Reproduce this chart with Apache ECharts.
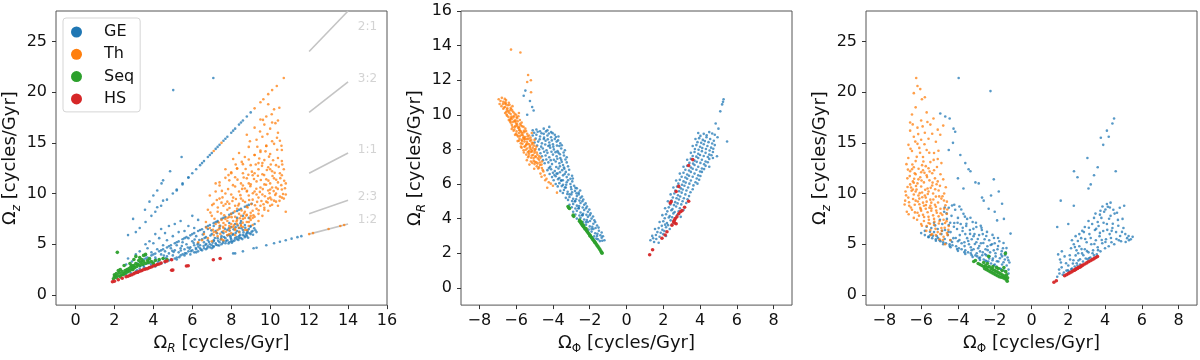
<!DOCTYPE html>
<html>
<head>
<meta charset="utf-8">
<script src="https://cdn.jsdelivr.net/npm/echarts@6.0.0/dist/echarts.min.js"></script>
<style>html,body{margin:0;padding:0;background:#fff}#c{width:1200px;height:360px}</style>
</head>
<body>
<div id="c"></div>
<script>
// ---------- groups ----------
const groupNames = ['GE', 'Th', 'Seq', 'HS'];
const groupColors = ['#1f77b4', '#ff7f0e', '#2ca02c', '#d62728'];

// ---------- tick values ----------
const ticksOmegaR_x = [0, 2, 4, 6, 8, 10, 12, 14, 16];
const ticksOmegaZ = [0, 5, 10, 15, 20, 25];
const ticksOmegaPhi = [-8, -6, -4, -2, 0, 2, 4, 6, 8];
const ticksOmegaR_y = [0, 2, 4, 6, 8, 10, 12, 14, 16];

// ---------- resonance guide lines (panel 1) ----------
const ratioNames = ['2:1', '3:2', '1:1', '2:3', '1:2'];
const ratioStart = [[12, 24], [12, 18], [12, 12], [12, 8], [12, 6]];
const ratioEnd = [[14, 28], [14, 21], [14, 14], [14, 9.33], [14, 7]];
const ratioLabelPos = [[14.5, 26.4], [14.5, 21.35], [14.5, 14.35], [14.5, 9.7], [14.5, 7.36]];

// ---------- Panel 1: Omega_R (x) vs Omega_z (y) ----------
const p1GE = [
[3.5,3.5],[3.7,3.68],[3.9,3.9],[4.1,4.08],[4.3,4.3],[4.5,4.5],[4.7,4.68],[4.9,4.9],[5.1,5.1],[5.3,5.28],[5.5,5.5],[5.7,5.7],[5.9,5.88],[6.1,6.1],[6.3,6.3],[6.5,6.48],[6.7,6.7],[6.9,6.9],[7.1,7.08],[7.3,7.3],[7.5,7.5],[7.7,7.68],[7.9,7.9],[8.1,8.1],[8.3,8.28],[8.5,8.5],[8.7,8.7],[8.9,8.88],[9.05,9.0],[3.6,3.6],[4.0,4.0],[4.4,4.4],[4.8,4.8],[5.2,5.2],[5.6,5.6],[6.0,6.0],[6.4,6.4],[6.8,6.8],[7.2,7.2],[7.6,7.6],[8.0,8.0],[8.4,8.4],[8.8,8.8],
[3.3,6.6],[3.6,7.2],[3.9,7.8],[4.1,8.2],[4.4,8.8],[4.7,9.4],[5.0,10.0],[5.2,10.4],[5.5,11.0],[5.8,11.6],[6.0,12.0],[6.2,12.4],[6.4,12.8],[6.6,13.2],[6.8,13.6],[7.0,14.0],[7.2,14.4],[7.4,14.8],[7.6,15.2],[7.8,15.6],[8.0,16.0],[8.2,16.4],[8.4,16.8],[8.6,17.2],[8.8,17.6],[9.0,18.0],[4.2,8.65],[4.5,9.3],[5.2,10.3],[5.5,10.9],[5.8,11.56],[6.5,13.0],[6.9,13.8],[7.3,14.6],[7.7,15.4],[8.1,16.2],[8.5,17.0],
[2.96,7.5],[3.57,8.4],[3.8,9.2],[4.0,9.8],[4.2,10.3],[4.42,11.0],[4.5,11.3],[4.86,12.2],[5.45,13.6],[2.7,5.9],[3.1,6.2],[5.02,20.2],[7.08,21.4],
[8.2,4.1],[8.6,4.3],[9.15,4.6],[9.3,4.65],[9.8,4.9],[10.2,5.1],[10.5,5.25],[10.8,5.4],[11.1,5.55],[11.4,5.7],[11.6,5.8],
[2.6,2.0],[2.7,2.3],[2.8,1.9],[2.9,2.5],[3.0,2.1],[3.0,2.8],[3.1,2.3],[3.2,3.1],[3.2,2.2],[3.3,2.6],[3.4,2.4],[3.4,3.3],[3.5,2.9],[2.7,3.6],[2.9,3.3],[3.1,4.0],[3.3,4.3],[2.6,3.0],
[3.6,2.6],[3.6,3.9],[3.7,3.1],[3.7,4.6],[3.8,2.7],[3.8,3.5],[3.9,2.9],[3.9,4.2],[4.0,3.2],[4.0,5.1],[4.1,2.8],[4.1,3.7],[4.2,4.5],[4.2,3.0],[4.3,3.4],[4.3,5.6],[4.4,3.1],[4.4,4.0],[4.5,3.6],[4.5,4.9],[3.8,5.3],[4.1,6.0],[4.4,6.5],[3.6,5.0],
[4.6,3.2],[4.6,4.3],[4.7,3.8],[4.7,5.4],[4.8,3.4],[4.8,4.1],[4.9,4.6],[4.9,3.5],[5.0,3.9],[5.0,5.8],[5.1,3.6],[5.1,4.4],[5.2,4.9],[5.2,3.7],[5.3,4.2],[5.3,6.2],[5.4,3.9],[5.4,4.6],[5.5,5.2],[5.5,4.0],[4.8,6.8],[5.1,7.0],[5.4,7.3],[4.6,6.1],
[5.6,3.9],[5.6,4.5],[5.7,4.1],[5.7,5.0],[5.8,4.3],[5.8,5.6],[5.9,4.0],[5.9,4.7],[6.0,4.4],[6.0,5.3],[6.1,4.2],[6.1,4.9],[6.2,4.5],[6.2,5.8],[6.3,4.3],[6.3,5.1],[6.4,4.6],[6.4,4.9],[6.5,4.4],[6.5,5.5],[5.8,6.8],[6.1,6.6],[6.3,7.4],[5.6,6.3],[6.0,7.8],
[6.6,4.6],[6.6,5.2],[6.7,4.5],[6.7,5.7],[6.8,4.8],[6.8,5.4],[6.9,4.7],[6.9,5.0],[7.0,4.9],[7.0,6.0],[7.1,4.8],[7.1,5.4],[7.2,5.1],[7.2,6.3],[7.3,4.9],[7.3,5.6],[7.4,5.2],[7.4,6.6],[7.5,5.0],[7.5,5.8],[6.8,6.5],[7.1,6.8],[7.3,7.2],[6.6,6.2],
[7.6,5.3],[7.6,6.1],[7.7,5.1],[7.7,5.6],[7.8,5.4],[7.8,6.4],[7.9,5.2],[7.9,5.9],[8.0,5.5],[8.0,6.7],[8.1,5.3],[8.1,6.0],[8.2,5.6],[8.2,7.0],[8.3,5.5],[8.3,6.3],[8.4,5.8],[8.4,6.6],[8.5,5.6],[8.5,7.3],[8.6,5.9],[8.6,6.4],[8.7,5.7],[8.7,6.9],[8.8,6.1],[8.8,5.8],[8.9,6.5],[8.9,7.6],[9.0,6.0],[9.0,6.8],[9.1,6.3],[9.2,7.0],[9.3,6.2],[8.6,7.8],[8.3,7.6],[7.9,7.1],[7.0,4.6],[8.0,5.3],[8.1,4.1],[6.2,4.2],[5.2,3.5],
[5.62,4.12],[5.77,4.68],[5.93,4.31],[6.07,5.12],[6.18,4.63],[6.27,4.98],[6.36,5.42],[6.44,4.47],[6.58,4.83],[6.63,5.61],[6.72,5.03],[6.77,4.62],[6.86,5.22],[6.93,5.87],[7.04,5.16],[7.08,4.72],[7.16,5.62],[7.22,4.96],[7.27,6.08],[7.33,5.34],[7.38,4.88],[7.46,5.47],[7.52,6.21],[7.57,5.14],[7.63,5.72],[7.68,6.52],[7.74,5.31],[7.81,5.88],[7.86,5.07],[7.92,6.33],[7.97,5.63],[8.03,5.16],[8.07,5.94],[8.12,6.47],[8.17,5.38],[8.23,6.12],[8.28,5.71],[8.33,6.86],[8.37,5.43],[8.42,6.22],[8.46,5.92],[8.52,6.58],[8.57,5.51],[8.63,6.17],[8.68,5.84],[8.72,6.63],[8.77,5.97],[8.83,6.36],[8.87,5.64],[8.93,6.08],[8.98,6.73],[9.04,6.22],[9.12,5.93],[9.18,6.57],[9.24,6.38],[6.12,5.47],[6.54,5.96],[6.98,6.37],[7.43,6.82],[7.88,6.58],[8.48,7.08],[8.22,6.68],[5.46,4.83],[5.04,4.23],[4.63,3.62],[4.23,3.27],[3.86,3.08],[3.52,2.74],[3.16,2.43],[2.84,2.16],[5.33,3.73],[5.86,4.56],[6.31,4.76],[6.68,4.94],[7.11,5.33],[7.49,5.61],[7.96,5.78],[8.41,5.63],[8.84,6.22],[4.12,3.52],[4.54,3.88],[4.97,4.36],[5.41,4.39],[3.73,3.32],[3.34,2.86],[2.98,2.61]
];
const p1Th = [
[6.6,6.0],[6.7,7.2],[6.8,5.6],[6.8,8.4],[6.9,6.6],[7.0,7.8],[7.0,5.3],[7.1,9.0],[7.1,6.2],[7.2,7.0],[7.2,10.2],[7.3,5.8],[7.3,8.2],[7.4,6.5],[7.4,9.5],[7.5,7.4],[7.5,5.5],[6.9,9.8],[7.2,11.0],[7.4,10.8],
[7.6,6.3],[7.6,8.8],[7.7,7.5],[7.7,10.0],[7.8,5.9],[7.8,9.2],[7.9,6.8],[7.9,11.3],[8.0,8.0],[8.0,6.1],[8.0,12.1],[8.1,7.3],[8.1,9.6],[8.2,6.5],[8.2,10.7],[8.3,8.5],[8.3,7.0],[8.3,12.5],[8.4,9.0],[8.4,6.2],[8.5,11.0],[8.5,7.8],[7.6,7.1],[7.8,8.4],[8.0,9.9],[8.2,8.8],[8.4,10.2],[7.7,12.4],[8.1,13.4],[8.4,14.0],[7.9,6.4],[8.2,7.7],[7.5,9.1],
[8.6,6.7],[8.6,9.3],[8.6,12.0],[8.7,7.6],[8.7,10.5],[8.7,13.6],[8.8,6.4],[8.8,8.7],[8.8,11.5],[8.9,7.2],[8.9,9.8],[8.9,14.6],[9.0,8.1],[9.0,10.9],[9.0,12.8],[9.1,6.9],[9.1,9.4],[9.1,11.8],[9.2,7.7],[9.2,10.2],[9.2,13.8],[9.3,8.5],[9.3,11.2],[9.3,15.3],[9.4,7.3],[9.4,9.6],[9.4,12.4],[9.5,8.8],[9.5,10.6],[9.5,14.1],[8.7,8.2],[8.9,11.0],[9.1,8.3],[9.3,9.9],[8.6,10.8],[9.0,7.4],[9.4,13.0],[8.8,15.8],[9.2,16.5],[9.5,17.3],
[9.6,7.8],[9.6,9.9],[9.6,11.9],[9.6,15.6],[9.7,8.6],[9.7,10.9],[9.7,13.3],[9.8,9.2],[9.8,11.4],[9.8,14.7],[9.8,17.6],[9.9,8.3],[9.9,10.3],[9.9,12.6],[10.0,9.6],[10.0,11.0],[10.0,13.9],[10.0,16.4],[10.1,8.9],[10.1,10.6],[10.1,12.2],[10.2,9.3],[10.2,11.5],[10.2,14.9],[10.2,18.3],[10.3,10.0],[10.3,12.8],[10.4,8.8],[10.4,11.1],[10.4,13.5],[10.5,9.7],[10.5,12.0],[10.5,15.2],[10.6,10.4],[10.6,11.8],[10.6,13.2],[10.7,9.5],[10.7,12.4],[10.8,8.2],[10.8,11.0],[9.9,18.8],[10.1,17.0],[10.4,16.0],[9.7,16.8],
[7.4,11.1],[7.7,11.55],[8.0,12.0],[8.3,12.45],[8.6,12.9],[8.9,13.35],[9.2,13.8],[9.5,14.25],[9.8,14.7],[10.1,15.15],[10.35,15.5],
[7.9,6.0],[8.2,6.4],[8.5,6.8],[8.8,7.2],[9.1,7.6],[9.4,8.0],[9.7,8.4],[10.0,8.8],[10.3,9.2],[10.6,9.6],[10.8,9.9],
[9.2,18.4],[9.5,19.0],[9.65,19.3],[9.9,19.8],[10.1,20.2],[10.34,20.6],[10.7,21.4],[7.1,14.2],[7.5,15.0],
[12.0,6.0],[12.2,6.1],[13.0,6.5],[13.6,6.8],[13.8,6.9],
[7.6,6.6],[7.7,6.9],[7.8,7.3],[7.9,7.7],[8.0,7.0],[8.1,6.7],[8.3,7.4],[8.4,8.0],[8.5,6.9],[8.6,7.5],[8.7,6.4],[8.8,7.9],[8.9,6.8],[9.0,7.8],[7.4,6.8],[7.3,6.4],[7.1,5.9],[7.6,5.4],[8.2,5.9],[6.5,5.4],[6.3,5.2],
[9.9,9.5],[10.3,10.6],[10.0,12.4],[9.6,13.0],[9.2,12.0],[8.8,10.2],[8.5,9.5],[8.2,11.6],[7.9,9.0],[10.6,14.3],[10.4,17.2],[10.0,10.4],
[7.06,6.43],[7.14,7.52],[7.23,6.17],[7.31,8.63],[7.36,7.14],[7.44,6.02],[7.48,8.04],[7.55,9.62],[7.58,6.72],[7.64,7.86],[7.71,8.97],[7.73,6.24],[7.82,7.62],[7.84,10.44],[7.91,8.58],[7.95,6.63],[8.02,7.67],[8.06,9.26],[8.09,10.83],[8.14,6.87],[8.18,8.24],[8.24,9.46],[8.27,7.24],[8.32,11.37],[8.36,8.82],[8.39,6.63],[8.44,7.56],[8.47,9.84],[8.53,8.34],[8.56,10.46],[8.59,7.13],[8.64,11.58],[8.66,8.03],[8.71,9.17],[8.74,12.42],[8.78,7.84],[8.81,10.27],[8.84,8.62],[8.88,11.86],[8.92,9.37],[8.95,7.58],[8.98,10.72],[9.03,8.96],[9.06,12.16],[9.11,10.03],[9.14,7.86],[9.17,11.43],[9.22,8.84],[9.26,12.86],[9.29,10.47],[9.33,9.18],[9.37,11.76],[9.41,8.36],[9.44,13.46],[9.47,10.16],[9.52,11.34],[9.55,9.27],[9.58,12.73],[9.62,10.44],[9.66,8.94],[9.69,11.82],[9.73,9.73],[9.76,14.16],[9.79,10.87],[9.83,12.32],[9.87,9.12],[9.91,11.27],[9.94,13.64],[9.97,10.03],[10.03,12.86],[10.06,9.42],[10.12,11.73],[10.15,13.28],[10.18,10.24],[10.23,12.04],[10.26,9.86],[10.31,11.36],[10.36,14.32],[10.39,10.46],[10.44,12.63],[10.48,9.28],[10.52,11.52],[10.57,10.83],[10.62,12.87],[10.66,9.96],[10.72,11.26],[10.76,10.52],[9.86,15.86],[10.27,16.94],[10.58,14.72],[9.34,14.62],[8.96,15.16],[10.08,17.82],[9.63,17.26],[10.47,18.46],[9.48,16.12],[8.54,13.12],[8.23,12.86],[7.86,11.82],[7.52,10.26],[7.26,9.36],[6.93,8.12],[6.72,6.64],[7.02,8.86]
];
const p1Seq = [
[1.95,1.6],[2.0,1.8],[2.0,2.0],[2.05,1.9],[2.1,1.7],[2.1,2.1],[2.15,4.2],[2.2,1.9],[2.25,2.2],[2.3,1.8],[2.35,2.0],[2.4,2.3],[2.45,2.0],[2.5,2.1],[2.55,2.4],[2.6,2.2],[2.65,2.5],[2.7,2.3],[2.75,2.6],[2.8,2.4],[2.85,2.8],[2.9,2.6],[2.95,2.5],[3.0,2.9],[3.05,2.7],[3.1,3.1],[3.15,2.8],[3.2,3.0],[3.25,3.4],[3.3,2.9],[3.35,3.2],[3.4,3.5],[3.45,3.0],[3.5,3.3],[3.6,3.1],[3.7,3.4],[3.75,3.2],[3.8,3.6],[3.9,3.3],[4.0,3.1],[3.0,3.5],[2.8,3.1],[2.3,2.5],[2.2,2.4],[3.5,3.9],[3.3,3.7],[4.1,3.4],[3.6,4.0],[4.3,3.5],[4.5,3.6],[4.7,3.5],[3.1,3.8],[2.5,2.9],[2.9,2.9]
];
const p1HS = [
[1.9,1.3],[2.0,1.35],[2.2,1.5],[2.4,1.65],[2.6,1.8],[2.7,1.85],[2.8,1.95],[2.9,2.0],[3.0,2.1],[3.1,2.2],[3.2,2.25],[3.3,2.35],[3.4,2.4],[3.5,2.5],[3.6,2.55],[3.7,2.6],[3.8,2.7],[3.9,2.75],[4.0,2.85],[4.1,2.9],[4.2,3.0],[4.3,3.05],[4.4,3.15],[4.6,3.3],[4.7,3.35],[4.94,3.47],[4.94,2.43],[5.0,2.45],[5.79,2.88],[5.7,2.85],[7.08,3.47],[7.43,3.6]
];

// ---------- Panel 2: Omega_phi (x) vs Omega_R (y) ----------
const p2GE = [
[-5.1,9.1],[-4.9,9.15],[-4.7,9.05],[-4.5,9.2],[-4.3,9.1],[-4.1,9.0],
[-5.1,8.8],[-4.9,8.85],[-4.7,8.75],[-4.5,8.9],[-4.3,8.8],[-4.1,8.7],[-3.9,8.85],[-3.7,8.75],
[-5.0,8.4],[-4.8,8.45],[-4.6,8.35],[-4.4,8.5],[-4.2,8.4],[-4.0,8.3],[-3.8,8.45],[-3.6,8.35],[-4.5,8.6],[-3.9,8.6],
[-4.75,8.0],[-4.55,8.05],[-4.35,7.95],[-4.15,8.1],[-3.95,8.0],[-3.75,7.9],[-3.55,8.05],[-3.35,7.95],[-4.25,8.2],[-3.65,8.2],
[-4.6,7.6],[-4.4,7.65],[-4.2,7.55],[-4.0,7.7],[-3.8,7.6],[-3.6,7.5],[-3.4,7.65],[-3.25,7.55],[-4.3,7.8],[-3.7,7.8],
[-4.45,7.2],[-4.25,7.25],[-4.05,7.15],[-3.85,7.3],[-3.65,7.2],[-3.45,7.1],[-3.25,7.25],[-3.95,7.4],[-3.55,7.4],[-4.15,7.0],
[-4.3,6.8],[-4.1,6.85],[-3.9,6.75],[-3.7,6.9],[-3.5,6.8],[-3.3,6.7],[-3.8,6.6],[-3.4,6.95],[-4.0,6.65],
[-4.05,6.4],[-3.85,6.45],[-3.65,6.35],[-3.45,6.5],[-3.25,6.4],[-3.05,6.3],[-3.55,6.2],[-3.75,6.6],[-3.15,6.55],
[-3.85,6.0],[-3.65,6.05],[-3.45,5.95],[-3.25,6.1],[-3.05,6.0],[-2.85,5.9],[-3.35,5.8],[-3.55,6.2],[-2.95,6.15],
[-3.6,5.6],[-3.4,5.65],[-3.2,5.55],[-3.0,5.7],[-2.8,5.6],[-2.6,5.5],[-3.1,5.4],[-3.3,5.8],[-2.7,5.75],
[-3.3,5.2],[-3.1,5.25],[-2.9,5.15],[-2.7,5.3],[-2.5,5.2],[-2.35,5.1],[-2.8,5.0],[-3.0,5.4],[-2.6,5.4],
[-3.1,4.8],[-2.9,4.85],[-2.7,4.75],[-2.5,4.9],[-2.3,4.8],[-2.15,4.7],[-2.6,4.6],[-2.8,5.0],[-2.4,5.0],
[-2.9,4.4],[-2.7,4.45],[-2.5,4.35],[-2.3,4.5],[-2.1,4.4],[-1.95,4.3],[-2.4,4.2],[-2.6,4.6],[-2.2,4.6],
[-2.7,4.0],[-2.5,4.05],[-2.3,3.95],[-2.1,4.1],[-1.9,4.0],[-1.75,3.9],[-2.2,3.8],[-2.4,4.2],[-2.0,4.2],
[-2.4,3.6],[-2.2,3.65],[-2.0,3.55],[-1.8,3.7],[-1.6,3.6],[-1.9,3.4],[-2.1,3.8],[-1.7,3.8],
[-2.1,3.2],[-1.9,3.25],[-1.7,3.15],[-1.5,3.3],[-1.35,3.2],[-1.6,3.0],[-1.8,3.4],
[-1.8,2.85],[-1.55,2.8],[-1.35,2.9],[-1.2,2.75],[-1.45,2.7],
[-5.59,11.1],[-5.5,11.4],[-5.13,10.45],[-5.05,10.25],[-5.25,10.8],[-5.4,10.0],[-4.2,9.3],
[-5.02,8.96],[-4.83,9.02],[-4.62,8.93],[-4.38,9.04],[-4.22,8.92],[-4.02,8.94],[-3.84,8.72],[-4.94,8.62],[-4.72,8.58],[-4.48,8.68],[-4.28,8.58],[-4.06,8.52],[-3.72,8.52],[-4.86,8.22],[-4.64,8.16],[-4.42,8.28],[-4.18,8.24],[-3.98,8.16],[-3.78,8.22],[-3.52,8.24],[-3.42,7.82],[-3.62,7.72],[-3.86,7.84],[-4.08,7.86],[-4.48,7.86],[-4.68,7.78],[-3.32,7.42],[-3.52,7.28],[-3.76,7.46],[-4.12,7.38],[-4.36,7.42],[-4.54,7.38],[-3.18,7.02],[-3.38,6.88],[-3.62,7.02],[-3.82,6.98],[-4.22,6.92],[-4.18,6.58],[-3.92,6.52],[-3.62,6.68],[-3.36,6.58],[-3.12,6.82],[-2.96,6.48],[-3.96,6.22],[-3.72,6.28],[-3.46,6.22],[-3.18,6.22],[-2.92,6.32],[-3.74,5.86],[-3.52,5.88],[-3.28,5.96],[-3.02,5.82],[-2.78,5.78],[-3.46,5.48],[-3.22,5.42],[-2.96,5.52],[-2.72,5.46],[-2.52,5.62],[-3.18,5.08],[-2.96,5.02],[-2.74,5.12],[-2.56,5.04],[-2.42,5.28],[-2.98,4.66],[-2.78,4.58],[-2.58,4.72],[-2.38,4.64],[-2.22,4.88],[-2.78,4.24],[-2.56,4.18],[-2.36,4.28],[-2.18,4.22],[-2.02,4.52],[-2.58,3.86],[-2.36,3.78],[-2.16,3.92],[-1.98,3.86],[-1.82,4.12],[-2.28,3.42],[-2.06,3.36],[-1.86,3.52],[-1.68,3.46],[-1.52,3.48],[-1.98,3.06],[-1.76,2.98],[-1.58,3.12],[-1.42,3.04],[-1.28,2.98],[-1.64,2.84],[-1.32,2.72],
[1.3,2.75],[1.5,2.65],[1.75,2.6],
[1.4,3.0],[1.6,3.05],[1.8,2.95],[2.0,3.1],[2.15,3.0],
[1.55,3.4],[1.75,3.45],[1.95,3.35],[2.15,3.5],[2.35,3.4],
[1.8,3.8],[2.0,3.85],[2.2,3.75],[2.4,3.9],[2.6,3.8],[2.1,3.65],
[1.95,4.2],[2.15,4.25],[2.35,4.15],[2.55,4.3],[2.75,4.2],[2.95,4.1],
[2.1,4.6],[2.3,4.65],[2.5,4.55],[2.7,4.7],[2.9,4.6],[3.1,4.5],
[2.25,5.0],[2.45,5.05],[2.65,4.95],[2.85,5.1],[3.05,5.0],[3.25,4.9],
[2.4,5.4],[2.6,5.45],[2.8,5.35],[3.0,5.5],[3.2,5.4],[3.4,5.3],
[2.55,5.8],[2.75,5.85],[2.95,5.75],[3.15,5.9],[3.35,5.8],[3.6,5.7],
[2.7,6.2],[2.9,6.25],[3.1,6.15],[3.3,6.3],[3.5,6.2],[3.75,6.1],[3.95,6.25],
[2.9,6.6],[3.1,6.65],[3.3,6.55],[3.5,6.7],[3.7,6.6],[3.9,6.5],[4.1,6.7],
[3.1,7.0],[3.3,7.05],[3.5,6.95],[3.7,7.1],[3.9,7.0],[4.1,6.9],[4.3,7.05],[4.5,7.0],
[3.3,7.4],[3.5,7.45],[3.7,7.35],[3.9,7.5],[4.1,7.4],[4.3,7.3],[4.5,7.45],[4.7,7.5],
[3.5,7.8],[3.7,7.85],[3.9,7.75],[4.1,7.9],[4.3,7.8],[4.5,7.7],[4.7,7.85],
[3.6,8.2],[3.8,8.25],[4.0,8.15],[4.2,8.3],[4.4,8.2],[4.6,8.1],[4.8,8.25],
[3.75,8.6],[3.95,8.65],[4.15,8.55],[4.35,8.7],[4.55,8.6],[4.75,8.5],[4.95,8.7],
[3.9,8.95],[4.2,8.9],[4.5,9.0],[4.8,8.85],
[5.28,10.9],[5.2,10.6],[5.1,10.2],[5.0,9.2],[5.47,8.46],[4.92,7.6],[4.85,9.5],[5.25,10.75],
[1.45,2.86],[1.62,2.82],[1.68,3.22],[1.86,3.18],[2.06,3.28],[1.92,3.58],[2.26,3.62],[2.48,3.66],[2.08,4.02],[2.3,4.06],[2.48,4.08],[2.66,4.02],[2.22,4.42],[2.44,4.48],[2.62,4.38],[2.84,4.42],[2.38,4.82],[2.58,4.78],[2.78,4.88],[2.98,4.82],[2.52,5.22],[2.72,5.18],[2.92,5.28],[3.12,5.18],[3.32,5.12],[2.66,5.62],[2.86,5.58],[3.06,5.68],[3.26,5.62],[3.48,5.52],[2.82,6.02],[3.02,5.96],[3.22,6.08],[3.42,6.02],[3.64,5.92],[3.86,6.02],[3.0,6.42],[3.2,6.38],[3.4,6.48],[3.6,6.42],[3.82,6.32],[4.02,6.46],[3.2,6.82],[3.4,6.78],[3.6,6.88],[3.8,6.82],[4.0,6.72],[4.22,6.86],[3.42,7.22],[3.62,7.18],[3.82,7.28],[4.02,7.22],[4.22,7.14],[4.42,7.26],[3.6,7.62],[3.8,7.58],[4.0,7.68],[4.2,7.62],[4.42,7.56],[4.62,7.66],[3.72,8.02],[3.92,7.98],[4.12,8.08],[4.32,8.02],[4.52,7.94],[4.72,8.04],[3.86,8.42],[4.06,8.38],[4.26,8.48],[4.46,8.42],[4.66,8.34],[4.02,8.78],[4.36,8.82],[4.66,8.92]
];
const p2Th = [
[-6.85,10.8],[-6.7,10.75],[-6.55,10.85],[-6.6,10.65],[-6.4,10.7],
[-6.8,10.5],[-6.6,10.45],[-6.45,10.55],[-6.3,10.4],[-6.7,10.35],[-6.2,10.5],[-6.5,10.3],
[-6.6,10.1],[-6.45,10.2],[-6.3,10.05],[-6.15,10.15],[-6.0,10.0],[-6.5,9.95],[-5.85,10.1],[-6.25,9.9],
[-6.4,9.7],[-6.25,9.75],[-6.1,9.65],[-5.95,9.8],[-5.8,9.7],[-6.3,9.55],[-6.0,9.5],[-5.7,9.55],[-6.15,9.85],
[-6.2,9.3],[-6.05,9.35],[-5.9,9.25],[-5.75,9.4],[-5.6,9.3],[-6.1,9.15],[-5.8,9.1],[-5.5,9.2],[-5.95,9.45],
[-6.0,8.9],[-5.85,8.95],[-5.7,8.85],[-5.55,9.0],[-5.4,8.9],[-5.9,8.75],[-5.6,8.7],[-5.3,8.8],[-5.75,9.05],[-5.15,8.95],
[-5.85,8.5],[-5.7,8.55],[-5.55,8.45],[-5.4,8.6],[-5.25,8.5],[-5.75,8.35],[-5.45,8.3],[-5.15,8.4],[-5.6,8.65],[-5.0,8.55],
[-5.7,8.1],[-5.55,8.15],[-5.4,8.05],[-5.25,8.2],[-5.1,8.1],[-5.6,7.95],[-5.3,7.9],[-5.0,8.0],[-5.45,8.25],[-4.9,8.15],
[-5.45,7.7],[-5.3,7.75],[-5.15,7.65],[-5.0,7.8],[-4.85,7.7],[-5.35,7.55],[-5.05,7.5],[-4.75,7.6],[-5.2,7.85],
[-5.2,7.3],[-5.05,7.35],[-4.9,7.25],[-4.75,7.4],[-4.6,7.3],[-5.0,7.15],[-4.7,7.1],
[-4.8,6.9],[-4.55,6.8],[-4.68,6.6],[-4.45,6.5],[-4.23,6.1],[-4.35,6.3],[-3.78,5.5],[-4.0,5.9],
[-6.28,13.77],[-5.77,13.6],[-5.35,12.3],[-5.4,11.9],[-5.19,11.3],[-5.2,12.0],[-6.95,10.9],
[-6.55,10.6],[-6.35,10.25],[-6.05,9.6],[-5.85,9.3],[-5.65,8.95],[-5.5,8.6],[-5.3,8.3],[-5.15,7.95],[-4.95,7.6],
[-6.72,10.62],[-6.58,10.72],[-6.36,10.58],[-6.66,10.42],[-6.48,10.38],[-6.27,10.32],[-6.54,10.18],[-6.38,10.12],[-6.21,10.24],[-6.08,10.06],[-6.42,9.88],[-6.28,9.82],[-6.12,9.93],[-5.98,9.87],[-5.88,9.92],[-6.33,9.62],[-6.18,9.58],[-6.04,9.68],[-5.92,9.62],[-5.78,9.48],[-6.24,9.42],[-6.08,9.28],[-5.96,9.36],[-5.83,9.22],[-5.68,9.34],[-6.14,9.08],[-5.98,9.04],[-5.84,9.12],[-5.72,8.98],[-5.58,9.08],[-5.46,9.06],[-5.94,8.82],[-5.79,8.78],[-5.64,8.82],[-5.52,8.72],[-5.38,8.76],[-5.22,8.68],[-5.82,8.62],[-5.68,8.48],[-5.56,8.58],[-5.42,8.44],[-5.32,8.62],[-5.18,8.54],[-5.08,8.36],[-5.66,8.32],[-5.52,8.18],[-5.38,8.34],[-5.26,8.12],[-5.14,8.28],[-5.02,8.22],[-4.94,8.02],[-5.48,7.98],[-5.36,7.84],[-5.22,8.02],[-5.12,7.88],[-4.98,7.92],[-4.88,7.82],[-5.32,7.62],[-5.18,7.52],[-5.08,7.68],[-4.94,7.56],[-4.82,7.48],[-4.68,7.52],[-5.12,7.22],[-4.98,7.28],[-4.84,7.18],[-4.72,7.24],[-4.62,7.12],[-4.88,7.02],[-4.76,6.96],[-4.6,6.92],[-4.52,6.72],[-4.62,6.42],[-4.42,6.22],[-4.12,6.02],[-4.31,5.78],[-6.62,10.92],[-6.78,10.98],[-6.9,10.62],[-6.52,10.02],[-6.34,9.72],[-6.24,9.18],[-6.06,8.84],[-5.92,8.48],[-5.74,8.16],[-5.58,7.82],[-5.42,7.38],[-5.28,7.12],[-5.02,6.88]
];
const p2Seq = [
[-3.14,4.63],[-3.18,4.7],[-3.1,4.58],[-2.87,4.13],[-2.9,4.2],[-2.55,3.85],[-2.51,3.81],[-2.48,3.75],[-2.45,3.7],[-2.4,3.62],[-2.35,3.55],[-2.3,3.48],[-2.25,3.4],[-2.2,3.35],[-2.15,3.27],[-2.1,3.2],[-2.05,3.12],[-2.0,3.05],[-1.95,2.98],[-1.9,2.9],[-1.85,2.82],[-1.8,2.75],[-1.75,2.68],[-1.7,2.6],[-1.65,2.53],[-1.6,2.45],[-1.55,2.38],[-1.5,2.3],[-1.45,2.22],[-1.4,2.12],[-1.35,2.05],[-1.33,2.0],[-2.45,3.8],[-2.35,3.62],[-2.2,3.42],[-2.55,3.92],[-1.98,3.0],[-1.72,2.64]
];
const p2HS = [
[1.26,1.91],[1.42,2.2],[1.93,2.86],[2.1,3.05],[2.2,3.24],[2.47,3.62],[2.56,3.81],[2.65,4.0],[2.74,4.1],[2.84,4.28],[2.93,4.4],[3.02,4.46],[3.16,4.66],[3.38,5.0],[2.38,4.9],[2.43,4.98],[2.84,5.86],[2.7,5.57],[3.38,7.07],[3.6,7.41],[2.6,3.9],[2.7,3.7],[2.62,3.75]
];

// ---------- Panel 3: Omega_phi (x) vs Omega_z (y) ----------
const p3GE = [
[-5.6,5.75],[-5.5,5.9],[-5.4,5.6],[-5.3,6.2],[-5.2,5.5],[-5.1,6.5],[-5.0,5.4],[-5.45,6.6],[-5.15,5.8],
[-4.95,5.3],[-4.9,6.0],[-4.85,7.0],[-4.8,5.2],[-4.75,8.2],[-4.7,6.4],[-4.65,5.1],[-4.6,7.5],[-4.55,5.9],[-4.5,6.9],[-4.5,8.6],
[-4.45,5.0],[-4.4,6.2],[-4.35,7.8],[-4.3,4.9],[-4.25,5.6],[-4.2,7.1],[-4.15,8.4],[-4.1,4.8],[-4.05,6.5],[-4.0,5.3],[-4.0,7.6],[-4.2,8.9],[-4.4,5.4],
[-3.95,4.6],[-3.9,5.9],[-3.85,7.0],[-3.8,4.5],[-3.75,6.3],[-3.7,8.0],[-3.65,5.2],[-3.6,4.4],[-3.55,6.8],[-3.5,5.6],[-3.5,7.5],[-3.8,5.1],[-3.6,6.0],
[-3.45,4.2],[-3.4,5.0],[-3.35,6.4],[-3.3,4.1],[-3.25,5.5],[-3.2,7.2],[-3.15,4.5],[-3.1,6.0],[-3.05,3.9],[-3.0,5.2],[-3.0,6.7],[-3.3,4.7],[-3.15,5.8],
[-2.95,3.8],[-2.9,4.6],[-2.85,5.9],[-2.8,3.7],[-2.75,5.1],[-2.7,6.4],[-2.65,4.2],[-2.6,3.5],[-2.55,5.5],[-2.5,4.5],[-2.5,3.4],[-2.8,4.3],[-2.65,6.0],
[-2.45,3.9],[-2.4,4.8],[-2.35,3.3],[-2.3,5.4],[-2.25,4.2],[-2.2,3.1],[-2.15,5.0],[-2.1,3.6],[-2.05,4.4],[-2.0,3.0],[-2.0,5.1],[-2.3,3.6],
[-1.95,3.8],[-1.9,2.8],[-1.85,4.5],[-1.8,3.3],[-1.75,5.3],[-1.7,2.6],[-1.65,4.0],[-1.6,3.0],[-1.55,4.6],[-1.5,2.4],[-1.45,3.5],[-1.4,4.2],[-1.35,2.9],[-1.3,3.7],[-1.25,2.5],[-1.2,3.2],[-1.6,3.8],
[-5.6,5.7],[-5.2,5.35],[-4.8,5.0],[-4.4,4.7],[-4.0,4.35],[-3.6,4.05],[-3.2,3.75],[-2.8,3.45],[-6.0,6.1],[-5.8,5.9],
[-4.96,17.9],[-4.69,17.6],[-4.45,17.4],[-4.24,16.4],[-4.15,16.1],[-4.27,15.0],[-3.87,13.8],[-3.6,13.0],[-3.42,12.4],[-3.32,12.2],[-3.05,11.1],[-2.87,11.0],[-2.69,9.6],[-2.6,9.3],[-2.33,8.5],[-2.05,11.4],[-1.78,10.2],[-1.87,7.35],[-1.6,9.0],[-1.14,6.05],[-3.96,21.4],[-2.23,20.1],[-4.5,14.3],[-4.0,11.5],[-3.7,10.5],[-2.2,9.8],[-2.0,8.2],[-1.5,7.5],
[-5.52,6.24],[-5.36,5.84],[-5.24,6.86],[-5.08,5.62],[-4.98,7.42],[-4.86,6.32],[-4.72,5.52],[-4.62,8.04],[-4.52,6.22],[-4.42,7.12],[-4.32,5.22],[-4.22,6.72],[-4.12,5.62],[-4.02,7.12],[-3.92,5.42],[-3.82,8.42],[-3.74,6.62],[-3.64,4.82],[-3.54,7.02],[-3.44,5.32],[-3.34,6.02],[-3.26,4.42],[-3.16,6.52],[-3.08,5.02],[-2.98,4.12],[-2.92,5.52],[-2.84,4.82],[-2.76,6.82],[-2.68,3.92],[-2.62,5.12],[-2.52,4.02],[-2.46,5.82],[-2.38,4.42],[-2.28,3.82],[-2.22,4.92],[-2.12,3.42],[-2.04,5.62],[-1.96,4.12],[-1.88,3.32],[-1.82,4.82],[-1.72,3.62],[-1.62,4.32],[-1.52,3.22],[-1.44,3.92],[-1.36,4.62],[-1.26,3.42],[-4.72,8.62],[-4.32,8.82],[-3.92,8.72],[-3.62,7.72],[-3.32,7.62],[-3.02,7.12],[-2.72,6.62],[-2.42,6.22],[-2.12,5.92],[-1.82,5.62],[-1.52,5.12],[-5.7,6.72],[-5.8,6.32],[-5.3,7.12],[-4.45,4.82],[-4.05,4.52],[-3.65,4.22],[-3.25,3.92],[-2.85,3.62],[-2.45,3.32],[-2.05,2.92],[-1.65,2.52],[-1.25,2.12],
[1.4,1.8],[1.5,2.5],[1.6,3.2],[1.7,2.0],[1.8,3.8],[1.9,2.4],[2.0,2.9],[1.45,4.0],[1.65,4.3],[1.55,3.5],
[2.05,2.3],[2.1,3.5],[2.15,4.6],[2.2,2.6],[2.25,3.1],[2.3,5.0],[2.35,2.8],[2.4,3.9],[2.45,4.4],[2.5,2.9],[2.2,5.4],[2.4,5.8],
[2.55,3.4],[2.6,4.8],[2.65,3.0],[2.7,5.6],[2.75,4.1],[2.8,3.3],[2.85,6.2],[2.9,4.5],[2.95,3.6],[3.0,5.2],[2.6,6.0],[2.9,6.7],
[3.05,3.5],[3.1,4.2],[3.15,6.0],[3.2,3.7],[3.25,5.0],[3.3,7.0],[3.35,4.4],[3.4,3.9],[3.45,6.4],[3.5,5.4],[3.1,7.3],[3.4,7.6],
[3.55,4.0],[3.6,4.7],[3.65,6.8],[3.7,5.8],[3.75,4.3],[3.8,7.6],[3.85,5.1],[3.9,6.3],[3.95,8.2],[4.0,4.6],[3.6,7.2],[3.75,8.3],
[4.05,5.5],[4.1,7.0],[4.15,8.7],[4.2,4.8],[4.25,6.0],[4.3,7.8],[4.35,5.2],[4.4,6.6],[4.45,8.4],[4.5,5.0],[4.1,8.97],[4.3,9.1],
[4.6,6.2],[4.7,7.4],[4.75,5.4],[4.8,8.6],[4.87,5.3],[4.95,7.5],[5.04,8.8],[5.1,6.0],[5.2,5.6],[5.3,5.4],[5.5,5.73],[5.4,5.5],[4.65,8.1],[5.0,6.6],
[3.22,10.9],[3.4,11.8],[3.6,12.6],[3.77,15.5],[4.1,16.2],[4.4,16.9],[4.49,17.4],[2.31,12.2],[2.5,11.6],[3.04,13.5],[4.58,12.2],[1.59,9.3],[2.3,8.8],[1.4,6.7],[3.9,14.8],[4.2,15.6],[3.1,10.5],[2.0,7.0],
[1.52,2.12],[1.64,2.72],[1.76,2.22],[1.88,3.12],[1.98,2.42],[2.08,3.92],[2.16,2.52],[2.28,3.42],[2.36,4.72],[2.46,3.12],[2.54,4.12],[2.64,3.52],[2.72,4.52],[2.82,3.92],[2.92,5.52],[3.02,4.32],[3.12,3.62],[3.22,5.62],[3.32,4.12],[3.42,5.02],[3.52,6.52],[3.62,4.42],[3.72,6.12],[3.82,5.42],[3.92,7.12],[4.02,5.22],[4.12,6.42],[4.22,7.52],[4.32,5.62],[4.42,7.02],[4.52,8.02],[4.62,5.52],[4.72,6.82],[4.82,5.82],[4.92,6.22],[5.12,5.22],[5.28,5.82],[4.26,8.62],[3.86,8.72],[3.48,8.02],[3.12,6.62],[2.76,6.32],[2.52,5.32],[3.72,7.92],[4.02,8.42],[4.36,6.32]
];
const p3Th = [
[-6.27,21.4],[-6.05,20.3],[-5.96,19.3],[-6.2,20.6],[-5.8,19.5],[-6.4,19.9],
[-6.5,17.8],[-6.3,18.5],[-6.0,17.2],[-5.7,18.0],[-5.33,17.4],[-6.6,17.0],[-5.5,16.8],[-5.1,16.3],
[-6.6,16.2],[-6.4,15.6],[-6.2,16.5],[-6.0,15.3],[-5.8,16.0],[-5.6,15.4],[-5.4,15.9],[-4.96,15.8],[-6.69,14.8],[-5.2,15.1],[-4.8,16.7],
[-6.7,13.5],[-6.5,14.2],[-6.3,13.2],[-6.1,14.5],[-5.9,13.6],[-5.7,14.3],[-5.5,13.1],[-5.3,14.0],[-5.1,13.4],[-6.8,12.9],[-6.4,12.6],[-5.95,12.8],[-5.6,12.5],[-4.9,13.0],[-6.2,14.9],
[-6.75,11.5],[-6.6,12.2],[-6.45,11.2],[-6.3,11.9],[-6.15,11.4],[-6.0,12.1],[-5.85,11.1],[-5.7,11.8],[-5.55,11.3],[-5.4,12.0],[-5.25,11.5],[-5.1,11.2],[-4.95,11.9],[-6.5,12.4],[-5.9,12.3],[-6.2,11.0],[-5.3,12.3],[-4.8,11.4],
[-6.85,10.2],[-6.7,9.6],[-6.55,10.6],[-6.4,9.9],[-6.25,10.4],[-6.1,9.5],[-5.95,10.1],[-5.8,9.8],[-5.65,10.5],[-5.5,9.4],[-5.35,10.0],[-5.2,9.7],[-5.05,10.3],[-4.9,9.5],[-4.75,10.0],[-6.6,10.9],[-6.0,10.7],[-5.4,10.8],[-6.3,9.3],[-5.7,9.2],[-6.87,9.3],[-4.6,9.2],
[-6.78,8.2],[-6.65,8.8],[-6.5,8.4],[-6.35,8.9],[-6.2,8.1],[-6.05,8.6],[-5.9,7.9],[-5.75,8.5],[-5.6,7.7],[-5.45,8.3],[-5.3,7.5],[-5.15,8.1],[-5.0,7.3],[-4.85,7.9],[-4.7,7.1],[-4.6,8.0],[-6.4,7.6],[-5.85,7.3],[-5.5,8.8],[-5.2,8.7],[-4.95,8.5],[-6.1,8.95],[-5.65,8.15],[-5.35,7.85],[-5.05,7.75],[-4.75,8.5],
[-6.0,7.0],[-5.7,6.8],[-5.5,6.4],[-5.3,6.9],[-5.1,6.2],[-4.9,6.6],[-4.78,5.73],[-4.6,6.1],[-4.42,5.41],[-4.5,6.8],[-5.2,5.9],[-5.6,7.1],[-5.0,5.5],[-4.7,5.0],[-5.4,6.0],
[-6.3,10.2],[-6.15,9.8],[-5.9,9.1],[-5.75,9.6],[-5.6,10.2],[-5.45,9.1],[-6.45,10.4],[-6.0,8.3],[-5.85,8.8],[-5.55,8.6],[-5.25,8.9],[-6.35,12.0],[-6.05,11.6],[-5.75,12.7],
[-6.82,9.82],[-6.74,10.64],[-6.66,9.14],[-6.62,11.72],[-6.56,8.62],[-6.52,10.28],[-6.48,12.86],[-6.44,9.46],[-6.38,11.46],[-6.34,8.14],[-6.28,10.74],[-6.24,13.62],[-6.18,9.22],[-6.14,12.44],[-6.08,10.04],[-6.02,8.46],[-5.98,11.28],[-5.94,9.64],[-5.88,13.16],[-5.84,7.68],[-5.78,10.38],[-5.74,8.86],[-5.68,11.62],[-5.64,9.96],[-5.58,7.42],[-5.54,12.18],[-5.48,10.56],[-5.44,8.52],[-5.38,11.08],[-5.34,9.42],[-5.28,7.22],[-5.24,10.42],[-5.18,8.32],[-5.14,12.62],[-5.08,9.12],[-5.04,7.04],[-4.98,10.76],[-4.94,8.06],[-4.88,6.32],[-4.84,9.74],[-4.78,7.42],[-4.72,6.62],[-4.68,8.84],[-4.62,7.28],[-4.56,5.92],[-4.52,6.42],[-6.58,14.42],[-6.32,15.12],[-6.06,14.02],[-5.82,14.86],[-5.56,14.02],[-5.32,13.32],[-5.06,14.22],[-6.46,16.82],[-6.16,15.86],[-5.92,16.62],[-5.66,17.06],[-6.72,12.36],[-6.9,8.92],[-6.68,7.96],[-6.22,7.42],[-5.96,6.82],[-5.72,6.32],[-5.46,5.92],[-5.22,6.52],[-4.96,6.02],[-4.82,5.42],[-6.12,7.82],[-5.52,7.02],[-5.82,12.04],[-6.4,11.06],[-5.02,9.72],[-4.76,9.32],[-4.58,8.42],[-4.66,10.62],[-5.16,10.92]
];
const p3Seq = [
[-3.14,3.3],[-3.05,3.4],[-2.33,3.8],[-1.42,4.1],[-1.32,1.36],[-2.9,3.1],[-2.8,3.0],[-2.7,2.9],[-2.6,2.8],[-2.55,2.6],[-2.5,2.9],[-2.45,2.5],[-2.4,2.7],[-2.35,2.4],[-2.3,2.8],[-2.25,2.3],[-2.2,2.6],[-2.15,2.2],[-2.1,2.5],[-2.05,2.1],[-2.0,2.4],[-1.95,2.0],[-1.9,2.3],[-1.85,1.9],[-1.8,2.2],[-1.75,1.8],[-1.7,2.1],[-1.65,1.75],[-1.6,2.0],[-1.55,1.7],[-1.5,1.9],[-1.45,1.6],[-1.4,1.8],[-1.35,1.5],[-1.3,1.7],[-2.1,2.8],[-1.8,2.6],[-1.6,2.4],[-1.4,2.3],[-2.4,3.1],[-1.9,2.7],[-1.5,2.7],[-2.6,3.2],[-1.35,2.0]
];
const p3HS = [
[1.22,1.26],[1.35,1.4],[1.8,1.9],[1.9,2.0],[2.0,2.1],[2.1,2.2],[2.2,2.3],[2.3,2.42],[2.4,2.52],[2.5,2.62],[2.6,2.73],[2.7,2.84],[2.8,2.95],[2.9,3.06],[3.0,3.16],[3.1,3.27],[3.2,3.37],[3.3,3.48],[3.4,3.58],[3.5,3.69],[3.59,3.79],[2.45,2.6],[2.55,2.7],[2.65,2.76],[2.35,2.45],[2.75,2.9]
];

// ---------- build chart ----------
const FONT = 'DejaVu Sans';
const panelData = [
  [p1GE, p1Th, p1Seq, p1HS],
  [p2GE, p2Th, p2Seq, p2HS],
  [p3GE, p3Th, p3Seq, p3HS]
];
const gridLefts = [56, 461, 866];
const minus = v => String(v).replace('-', '\u2212');

function axisName(sub, italic) {
  return '{m|\u03A9}{' + (italic ? 'si' : 'su') + '|' + sub + '}{m| [cycles/Gyr]}';
}
const nameRich = {
  m: { fontSize: 18, fontFamily: FONT, color: '#111', lineHeight: 24 },
  si: { fontSize: 12, fontFamily: FONT, fontStyle: 'italic', color: '#111', verticalAlign: 'bottom', lineHeight: 12 },
  su: { fontSize: 12, fontFamily: FONT, color: '#111', verticalAlign: 'bottom', lineHeight: 12 }
};

function makeAxis(min, max, ticks, name, isY) {
  return {
    type: 'value', min: min, max: max,
    name: name, nameLocation: 'middle', nameGap: isY ? 33 : 25,
    nameTextStyle: { rich: nameRich },
    axisLine: { show: false, onZero: false },
    splitLine: { show: false },
    axisTick: { show: true, inside: false, length: 4, customValues: ticks, lineStyle: { color: '#333', width: 1 } },
    axisLabel: { show: true, customValues: ticks, margin: isY ? 9 : 8, fontSize: 16, fontFamily: FONT, color: '#111', formatter: minus }
  };
}

const grids = gridLefts.map(l => ({ left: l, top: 11, width: 331, height: 298, show: true, borderColor: '#555', borderWidth: 1, backgroundColor: 'transparent' }));
const xAxes = [
  makeAxis(-1, 16, ticksOmegaR_x, axisName('R', true), false),
  makeAxis(-9, 9, ticksOmegaPhi, axisName('\u03A6', false), false),
  makeAxis(-9, 9, ticksOmegaPhi, axisName('\u03A6', false), false)
];
const yAxes = [
  makeAxis(-1, 28, ticksOmegaZ, axisName('z', true), true),
  makeAxis(-1, 16, ticksOmegaR_y, axisName('R', true), true),
  makeAxis(-1, 28, ticksOmegaZ, axisName('z', true), true)
];
xAxes.forEach((a, i) => { a.gridIndex = i; a.position = 'bottom'; });
yAxes.forEach((a, i) => { a.gridIndex = i; a.position = 'left'; });

const series = [];
ratioNames.forEach((nm, i) => {
  series.push({
    type: 'line', xAxisIndex: 0, yAxisIndex: 0, data: [ratioStart[i], ratioEnd[i]],
    symbol: 'none', silent: true, z: 1,
    lineStyle: { color: '#c4c4c4', width: 1.6 }
  });
});
series.push({
  type: 'scatter', xAxisIndex: 0, yAxisIndex: 0, symbolSize: 0, silent: true, z: 1,
  data: ratioLabelPos.map((p, i) => ({ value: p, name: ratioNames[i] })),
  label: { show: true, position: 'right', distance: 0, formatter: '{b}', color: '#c8c8c8', fontSize: 12, fontFamily: FONT }
});

panelData.forEach((groups, pi) => {
  groups.forEach((pts, gi) => {
    const big = gi >= 2;
    series.push({
      name: groupNames[gi], type: 'scatter', xAxisIndex: pi, yAxisIndex: pi,
      data: pts, symbol: 'circle', symbolSize: big ? 3.6 : 2.6, z: 2 + gi,
      itemStyle: { color: groupColors[gi], opacity: big ? 0.95 : 0.75 }
    });
  });
});

const chart = echarts.init(document.getElementById('c'), null, { renderer: 'canvas' });
chart.setOption({
  animation: false,
  backgroundColor: '#fff',
  textStyle: { fontFamily: FONT },
  color: groupColors,
  grid: grids, xAxis: xAxes, yAxis: yAxes,
  legend: {
    data: groupNames, orient: 'vertical', left: 63, top: 18,
    icon: 'circle', itemWidth: 29, itemHeight: 11, itemGap: 0.3,
    padding: [3, 6, 2, 8],
    borderColor: '#d5d5d5', borderWidth: 1, borderRadius: 3, backgroundColor: 'rgba(255,255,255,0.8)',
    textStyle: { fontSize: 16, fontFamily: FONT, color: '#111', lineHeight: 22, padding: [0, 0, 0, 8] },
    itemStyle: { opacity: 1 }
  },
  series: series
});
</script>
</body>
</html>
